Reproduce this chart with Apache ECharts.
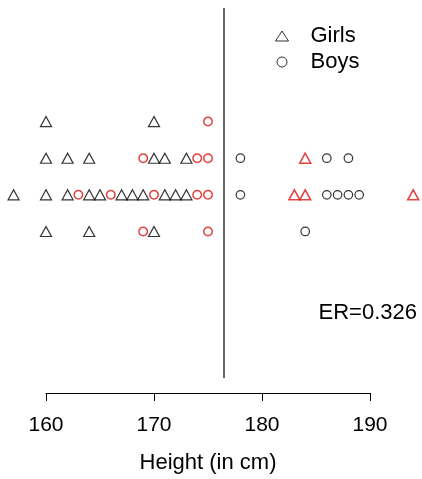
<!DOCTYPE html>
<html><head><meta charset="utf-8">
<script src="https://cdn.jsdelivr.net/npm/echarts@6/dist/echarts.min.js"></script>
<style>html,body{margin:0;padding:0;background:#fff}#chart{width:422px;height:479px}</style>
</head><body><div id="chart"></div>
<script>
// Heights (cm) paired with their stack level; level 0 is the middle strip
const girlsCorrect = [[160,2],[170,2],[160,1],[162,1],[164,1],[170,1],[171,1],[173,1],
  [157,0],[160,0],[162,0],[164,0],[165,0],[167,0],[168,0],[169,0],[171,0],[172,0],[173,0],
  [160,-1],[164,-1],[170,-1]];
const girlsWrong = [[184,1],[183,0],[184,0],[194,0]];
const boysCorrect = [[178,1],[186,1],[188,1],[178,0],[186,0],[187,0],[188,0],[189,0],[184,-1]];
const boysWrong = [[175,2],[169,1],[174,1],[175,1],[163,0],[166,0],[170,0],[174,0],[175,0],[169,-1],[175,-1]];
const cutoff = 176.5;
const errorRate = 0.326;
const xTicks = [160, 170, 180, 190];

const FONT = '"Liberation Sans", Arial, Helvetica, sans-serif';
const OK = '#000000';
const BAD = '#dd1111';

function points(ok, bad) {
  return ok.map(p => ({ value: p }))
    .concat(bad.map(p => ({ value: p, itemStyle: { borderColor: BAD, borderWidth: 1.5 } })));
}

const chart = echarts.init(document.getElementById('chart'), null, { renderer: 'canvas' });
chart.setOption({
  animation: false,
  backgroundColor: '#ffffff',
  grid: { left: 46, right: 52, top: 8, bottom: 92 },
  xAxis: {
    type: 'value',
    min: xTicks[0], max: xTicks[xTicks.length - 1], interval: xTicks[1] - xTicks[0],
    offset: 15,
    axisLine: { show: true, onZero: false, lineStyle: { color: '#000', width: 1 } },
    axisTick: { show: true, length: 8, lineStyle: { color: '#000', width: 1 } },
    axisLabel: { color: '#000', fontSize: 21, fontFamily: FONT, margin: 22 },
    splitLine: { show: false },
    name: 'Height (in cm)', nameLocation: 'middle', nameGap: 59,
    nameTextStyle: { color: '#000', fontSize: 22, fontFamily: FONT }
  },
  yAxis: { type: 'value', min: -5, max: 5.1, show: false },
  legend: {
    orient: 'vertical', left: 270, top: 20,
    itemWidth: 13, itemHeight: 10, itemGap: 4,
    itemStyle: { borderWidth: 1 },
    textStyle: { color: '#000', fontSize: 22, fontFamily: FONT, padding: [0, 0, 0, 17] },
    data: [{ name: 'Girls', icon: 'triangle' }, { name: 'Boys', icon: 'circle' }],
    selectedMode: false
  },
  series: [
    {
      name: 'Girls', type: 'scatter', symbol: 'triangle', symbolSize: [11, 10], clip: false,
      itemStyle: { color: 'rgba(0,0,0,0)', borderColor: OK, borderWidth: 1.2 },
      data: points(girlsCorrect, girlsWrong),
      markLine: {
        silent: true, symbol: 'none', label: { show: false },
        lineStyle: { color: '#444', width: 1.6, type: 'solid' },
        data: [{ xAxis: cutoff }]
      }
    },
    {
      name: 'Boys', type: 'scatter', symbol: 'circle', symbolSize: 8.5, clip: false,
      itemStyle: { color: 'rgba(0,0,0,0)', borderColor: OK, borderWidth: 1.2 },
      data: points(boysCorrect, boysWrong)
    }
  ],
  graphic: [{
    type: 'text', right: 5, top: 302,
    style: { text: 'ER=' + errorRate.toFixed(3), fill: '#000', fontSize: 22, fontFamily: FONT }
  }]
});
</script></body></html>
